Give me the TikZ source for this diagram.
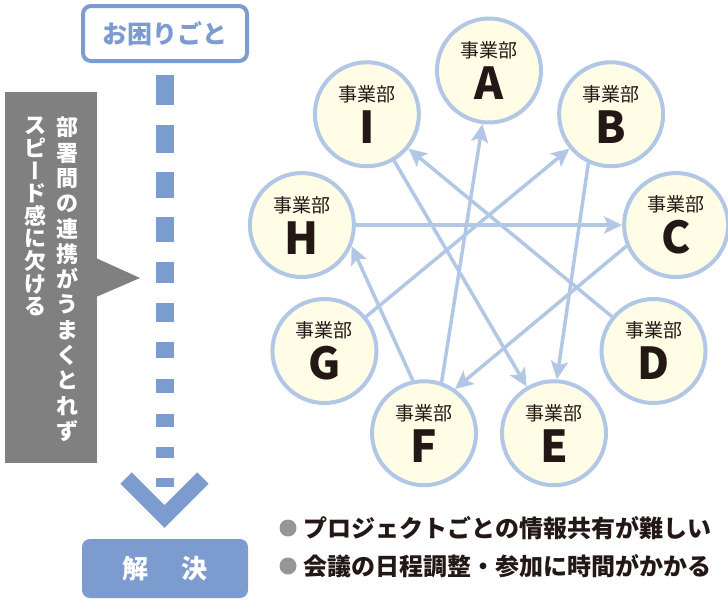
\documentclass[tikz,border=0pt]{standalone}
\usepackage{fontspec}
\setmainfont{Noto Sans CJK JP}
\usetikzlibrary{arrows.meta, positioning}
\definecolor{mainblue}{RGB}{124,156,208}
\definecolor{ringblue}{RGB}{178,198,230}
\definecolor{cream}{RGB}{255,253,230}
\definecolor{boxgray}{RGB}{128,128,128}
\definecolor{dotgray}{RGB}{150,150,150}
\definecolor{ink}{RGB}{35,24,21}
\newcommand{\vbar}{{\addfontfeatures{RawFeature=+vert}ー}}
\tikzset{
  dept/.style={circle, draw=ringblue, fill=cream, line width=4pt,
               minimum size=104pt, inner sep=0pt, align=center, text=ink,
               font=\fontsize{19}{42}\selectfont},
  link/.style={-{Stealth[length=18pt, width=17pt, inset=4pt]},
               ringblue, line width=3.5pt},
  troublebox/.style={rectangle, rounded corners=8pt, draw=mainblue,
                     line width=4pt, fill=white, minimum width=164pt,
                     minimum height=55pt, text=mainblue,
                     font=\bfseries\fontsize{25}{30}\selectfont},
  solvebox/.style={rectangle, rounded corners=8pt, fill=mainblue,
                   minimum width=166pt, minimum height=59pt, text=white,
                   font=\bfseries\fontsize{26}{30}\selectfont},
  issuebox/.style={rectangle, fill=boxgray, minimum width=92pt,
                   minimum height=371pt, inner sep=0pt},
  vtext/.style={text=white, align=center, inner sep=0pt, anchor=north,
                font=\bfseries\fontsize{22}{25.3}\selectfont},
  dot/.style={circle, fill=dotgray, minimum size=17pt, inner sep=0pt},
  note/.style={text=ink, inner sep=0pt,
               font=\bfseries\fontsize{24}{28}\selectfont},
}
\begin{document}
\begin{tikzpicture}[x=1pt, y=-1pt]
  \useasboundingbox (0,0) rectangle (728,600);

  % left: problem -> solution
  \node[troublebox] (trouble) at (165,33.5) {お困りごと};
  \foreach \ytop/\len in {75/30,125/28,172/26,217/25,262/21,303/19,
                          342/16,379/14,414/13,447/11,478/9}{
    \fill[mainblue] (155.5,\ytop) rectangle (174,{\ytop+\len});
  }
  \draw[mainblue, line width=16pt] (126,478) -- (164.5,516.5) -- (203,478);
  \node[solvebox] (solve) at (165,568.5) {解　\kern8pt決};

  \node[issuebox] (issue) at (51,277.5) {};
  \fill[boxgray] (96,258) -- (140,278) -- (96,297) -- cycle;
  \node[vtext] (issue1) at (67,117)
    {部\\署\\間\\の\\連\\携\\が\\う\\ま\\く\\と\\れ\\ず};
  \node[vtext, font=\bfseries\fontsize{22}{22.6}\selectfont] (issue2) at (35,117)
    {ス\\ピ\\\vbar\\ド\\感\\に\\欠\\け\\る};

  % ring of divisions
  \foreach \dname/\ang in {A/0,B/40,C/80,D/120,E/160,F/200,G/240,H/280,I/320}{
    \node[dept] (\dname) at ({489+190*sin(\ang)},{257.5-187*cos(\ang)})
      {事業部\\{\fontsize{44}{42}\selectfont\bfseries \dname}};
  }
  \draw[link] (F.71) -- (A.263);
  \draw[link] (G) -- (B);
  \draw[link] (H) -- (C);
  \draw[link] (D) -- (I);
  \draw[link] (I) -- (E);
  \draw[link] (B.245) -- (E.87);
  \draw[link] (C.203) -- (F.55);
  \draw[link] (F.102) -- (H.337);

  % notes
  \node[dot] (dot1) at (288,528) {};
  \node[note, right=7pt of dot1] (note1) {プロジェクトごとの情報共有が難しい};
  \node[dot] (dot2) at (288,566) {};
  \node[note, right=7pt of dot2] (note2) {会議の日程調整・参加に時間がかかる};
\end{tikzpicture}
\end{document}
